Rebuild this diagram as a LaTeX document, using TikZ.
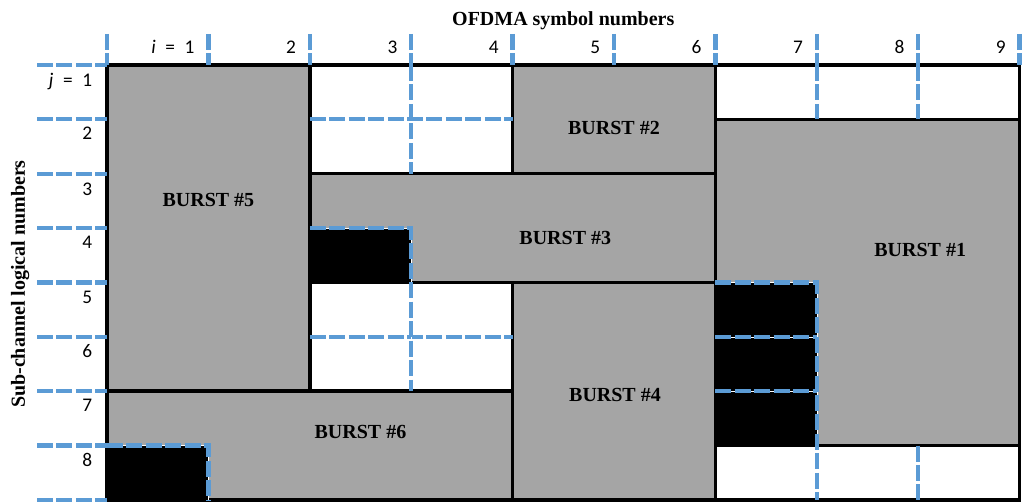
\documentclass[tikz,border=0pt]{standalone}
\usepackage{fontspec}
\usepackage{xcolor}
\usepackage{tikz}
\setmainfont{Liberation Serif}
\newfontfamily\numfont{Carlito}
\definecolor{burstGray}{RGB}{165, 165, 165}
\definecolor{slotBlue}{RGB}{91, 155, 213}

\tikzset{
  burst/.style={fill=burstGray, draw=black, line width=2.6pt},
  slot/.style={draw=slotBlue, line width=3.2pt, dash pattern=on 12pt off 2.6pt},
  slotedge/.style={slot, preaction={draw=white, solid}},
  burstlabel/.style={font=\fontsize{15}{18}\selectfont\bfseries},
  numlabel/.style={font=\numfont\fontsize{14.5}{17}\selectfont, anchor=base east},
}

\begin{document}
\begin{tikzpicture}[x=76.1pt, y=-40.8pt]
\useasboundingbox (-1.055,-1.195) rectangle (9.024,8.033);

% Bursts
\draw[burst] (0,0) rectangle (2,6);
\draw[burst] (4,0) rectangle (6,2);
\draw[burst] (2,2) rectangle (6,4);
\draw[burst] (6,1) rectangle (9,7);
\draw[burst] (4,4) rectangle (6,8);
\draw[burst] (0,6) rectangle (4,8);
\draw[line width=2.6pt] (0,0) rectangle (9,8);

% Padding slots
\fill (2,3) rectangle (3,4);
\fill (6,4) rectangle (7,7);
\fill (0,7) rectangle (1,8);

% Slot grid
\draw[slot] (-0.69,0) -- (0,0) (-0.69,1) -- (0,1) (-0.69,2) -- (0,2)
  (-0.69,3) -- (0,3) (-0.69,4) -- (0,4) (-0.69,5) -- (0,5)
  (-0.69,6) -- (0,6) (-0.69,7) -- (0,7) (-0.69,8) -- (0,8);
\draw[slot] (0,-0.57) -- (0,0) (1,-0.57) -- (1,0) (2,-0.57) -- (2,0)
  (3,-0.57) -- (3,0) (4,-0.57) -- (4,0) (5,-0.57) -- (5,0)
  (6,-0.57) -- (6,0) (7,-0.57) -- (7,0) (8,-0.57) -- (8,0) (9,-0.57) -- (9,0);
\draw[slot] (3,0) -- (3,2) (2,1) -- (4,1);
\draw[slot] (7,0) -- (7,1) (8,0) -- (8,1);
\draw[slot] (2,5) -- (4,5);
\draw[slot] (8,7) -- (8,8);
\draw[slotedge] (2,3) -| (3,6);
\draw[slotedge] (6,4) -| (7,8);
\draw[slotedge] (6,5) -- (7,5) (6,6) -- (7,6);
\draw[slotedge] (0,7) -| (1,8);

% Burst names
\node[burstlabel] (burst5) at (1.0,2.48) {BURST \#5};
\node[burstlabel] (burst2) at (5.0,1.16) {BURST \#2};
\node[burstlabel] (burst3) at (4.52,3.18) {BURST \#3};
\node[burstlabel] (burst1) at (8.02,3.40) {BURST \#1};
\node[burstlabel] (burst4) at (5.01,6.07) {BURST \#4};
\node[burstlabel] (burst6) at (2.5,6.76) {BURST \#6};

% Axis titles
\node[burstlabel, anchor=base] (symbols) at (4.5,-0.735) {OFDMA symbol numbers};
\node[burstlabel, anchor=base, rotate=90] (subchannels) at (-0.81,4.03) {Sub-channel logical numbers};

% Symbol numbers
\node[numlabel] (col1) at (0.91,-0.215) {\textit{i}\enspace=\enspace1};
\node[numlabel] (col2) at (1.91,-0.215) {2};
\node[numlabel] (col3) at (2.91,-0.215) {3};
\node[numlabel] (col4) at (3.91,-0.215) {4};
\node[numlabel] (col5) at (4.91,-0.215) {5};
\node[numlabel] (col6) at (5.91,-0.215) {6};
\node[numlabel] (col7) at (6.91,-0.215) {7};
\node[numlabel] (col8) at (7.91,-0.215) {8};
\node[numlabel] (col9) at (8.91,-0.215) {9};

% Sub-channel numbers
\node[numlabel] (row1) at (-0.1,0.40) {\textit{j}\enspace=\enspace1};
\node[numlabel] (row2) at (-0.1,1.38) {2};
\node[numlabel] (row3) at (-0.1,2.40) {3};
\node[numlabel] (row4) at (-0.1,3.38) {4};
\node[numlabel] (row5) at (-0.1,4.38) {5};
\node[numlabel] (row6) at (-0.1,5.38) {6};
\node[numlabel] (row7) at (-0.1,6.38) {7};
\node[numlabel] (row8) at (-0.1,7.38) {8};
\end{tikzpicture}
\end{document}
